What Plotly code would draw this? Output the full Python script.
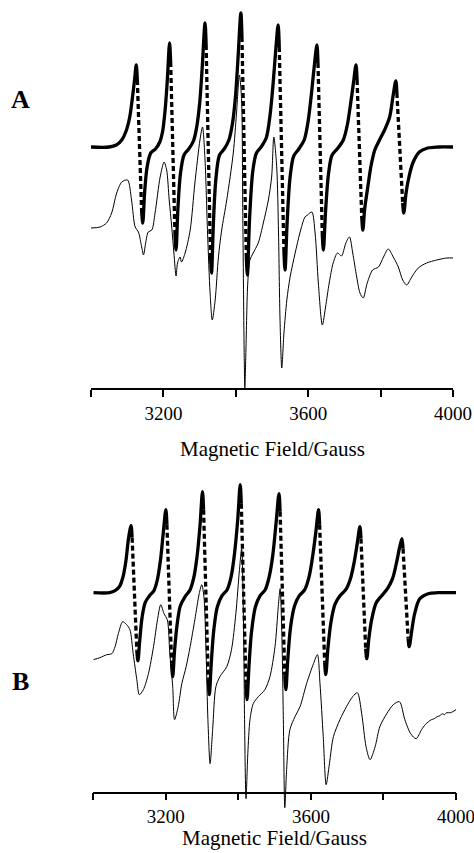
import plotly.graph_objects as go

# ---------------- data (field in Gauss, intensity in arbitrary units) ----------------
simA_field = [3000, 3050, 3070, 3085, 3097, 3107, 3114, 3120, 3125, 3128,
              3134, 3140, 3143,
              3148, 3155, 3165, 3178, 3190, 3198, 3205, 3211, 3217, 3220,
              3226, 3232, 3235,
              3240, 3247, 3257, 3270, 3283, 3292, 3300, 3307, 3315, 3318,
              3324, 3330, 3333,
              3338, 3345, 3355, 3368, 3381, 3391, 3399, 3406, 3414, 3417,
              3423, 3429, 3432,
              3438, 3447, 3457, 3470, 3484, 3494, 3503, 3511, 3517, 3520,
              3527, 3533, 3536,
              3542, 3550, 3560, 3574, 3589, 3599, 3608, 3616, 3624, 3627,
              3633, 3639, 3642,
              3648, 3656, 3666, 3680, 3697, 3708, 3717, 3725, 3732, 3735,
              3741, 3748, 3751,
              3756, 3765, 3774, 3784, 3797, 3811, 3825, 3834, 3842, 3845,
              3853, 3861, 3864,
              3870, 3876, 3889, 3907, 3930, 3960, 4000]
simA_int = [242, 242, 244, 249, 258, 272, 290, 308, 324, 309,
            245, 177, 166,
            196, 222, 236, 240, 247, 258, 280, 310, 346, 327,
            242, 154, 139,
            180, 215, 234, 240, 248, 262, 285, 320, 366, 344,
            241, 135, 116,
            165, 210, 234, 240, 249, 266, 292, 330, 376, 352,
            245, 133, 114,
            170, 218, 236, 242, 251, 272, 305, 342, 364, 342,
            241, 137, 119,
            168, 212, 233, 240, 249, 266, 292, 320, 344, 326,
            241, 154, 139,
            178, 215, 234, 240, 249, 264, 285, 306, 324, 309,
            241, 171, 159,
            180, 203, 224, 239, 249, 259, 272, 292, 308, 296,
            242, 186, 176,
            195, 208, 226, 237, 241, 242, 242]

expA_field = [3000, 3025, 3043, 3057, 3071, 3085, 3101, 3112, 3122, 3131, 3140, 3145,
              3151, 3158, 3168, 3177, 3191, 3202, 3209, 3216, 3223, 3229, 3235, 3239,
              3246, 3250, 3260, 3274, 3287, 3301, 3308, 3315, 3322, 3329, 3335, 3343,
              3352, 3361, 3375, 3393, 3402, 3410, 3416, 3419, 3423, 3425, 3428, 3433,
              3439, 3448, 3462, 3476, 3490, 3499, 3505, 3513, 3518, 3522, 3527, 3533,
              3541, 3550, 3564, 3577, 3591, 3598, 3610, 3619, 3628, 3639, 3648, 3658,
              3669, 3681, 3692, 3704, 3714, 3723, 3734, 3743, 3752, 3763, 3778, 3794,
              3808, 3821, 3835, 3849, 3861, 3872, 3886, 3904, 3927, 3955, 3983, 4000]
expA_int = [161, 162, 166, 176, 196, 207, 209, 189, 162, 157, 142, 134,
            146, 157, 159, 176, 212, 227, 219, 189, 162, 136, 113, 126,
            132, 127, 136, 159, 206, 249, 262, 229, 156, 96, 69, 89,
            132, 159, 189, 236, 276, 314, 289, 189, 39, 1, 39, 106,
            129, 136, 146, 166, 189, 212, 252, 222, 156, 72, 21, 56,
            89, 112, 136, 156, 172, 174, 177, 156, 106, 64, 82, 106,
            126, 136, 133, 146, 152, 136, 112, 96, 91, 106, 119, 122,
            132, 140, 132, 122, 109, 104, 112, 121, 126, 129, 131, 131]

simB_field = [3000, 3045, 3060, 3072, 3082, 3090, 3097, 3104, 3107,
              3113, 3120, 3123,
              3128, 3134, 3143, 3155, 3167, 3176, 3185, 3193, 3200, 3203,
              3209, 3216, 3219,
              3224, 3231, 3240, 3253, 3267, 3277, 3286, 3294, 3301, 3304,
              3310, 3317, 3320,
              3325, 3332, 3342, 3355, 3369, 3380, 3389, 3398, 3405, 3408,
              3414, 3421, 3424,
              3429, 3436, 3447, 3460, 3474, 3485, 3495, 3504, 3512, 3515,
              3521, 3528, 3531,
              3536, 3544, 3555, 3568, 3583, 3595, 3605, 3614, 3621, 3624,
              3631, 3638, 3641,
              3647, 3655, 3666, 3680, 3696, 3709, 3719, 3728, 3735, 3738,
              3745, 3751, 3754,
              3760, 3768, 3780, 3795, 3811, 3825, 3836, 3845, 3851, 3854,
              3861, 3868, 3871,
              3878, 3886, 3900, 3923, 3950, 4000]
simB_int = [200, 200, 202, 206, 216, 232, 254, 267, 255,
            200, 142, 132,
            152, 174, 190, 197, 202, 212, 232, 260, 283, 268,
            200, 129, 116,
            142, 168, 187, 196, 203, 215, 236, 266, 301, 283,
            200, 113, 98,
            128, 162, 186, 197, 203, 216, 238, 272, 308, 289,
            200, 109, 93,
            125, 160, 186, 197, 203, 216, 238, 270, 299, 281,
            200, 117, 103,
            132, 166, 187, 197, 203, 216, 237, 262, 283, 268,
            200, 130, 118,
            145, 170, 188, 197, 203, 214, 230, 250, 266, 254,
            200, 144, 134,
            155, 174, 190, 197, 204, 214, 230, 246, 254, 244,
            200, 154, 146,
            162, 179, 194, 199, 200, 200]

expB_field = [3000, 3018, 3037, 3051, 3060, 3069, 3081, 3092, 3101, 3110, 3120, 3127,
              3138, 3152, 3166, 3177, 3186, 3195, 3204, 3211, 3219, 3224, 3234, 3244,
              3256, 3267, 3280, 3292, 3299, 3305, 3311, 3316, 3322, 3329, 3338, 3349,
              3368, 3381, 3393, 3403, 3409, 3414, 3417, 3421, 3426, 3432, 3441, 3455,
              3473, 3487, 3501, 3510, 3515, 3520, 3524, 3528, 3533, 3542, 3556, 3570,
              3588, 3607, 3618, 3625, 3634, 3642, 3651, 3662, 3680, 3698, 3715, 3728,
              3740, 3752, 3763, 3777, 3790, 3809, 3827, 3844, 3859, 3875, 3890, 3905,
              3915, 3924, 3932, 3940, 3948, 3956, 3962, 3968, 3974, 3985, 4000]
expB_int = [133, 135, 138, 139, 146, 159, 171, 168, 163, 139, 113, 98,
            103, 119, 146, 173, 188, 179, 173, 139, 106, 73, 86, 109,
            126, 146, 173, 199, 208, 196, 139, 73, 29, 63, 106, 116,
            126, 143, 179, 223, 244, 173, 73, -6, 39, 73, 89, 96,
            103, 116, 146, 186, 204, 156, 73, -15, 23, 63, 76, 86,
            109, 129, 138, 109, 56, 8, 29, 56, 73, 86, 96, 100,
            79, 46, 33, 46, 66, 79, 88, 91, 73, 59, 54, 63,
            68, 71, 73, 74, 76, 77, 79, 78, 80, 80, 83]

tick_vals = [3000, 3200, 3400, 3600, 3800, 4000]
tick_text = ["", "3200", "", "3600", "", "4000"]
axis_title = "Magnetic Field/Gauss"
panel_labels = ["A", "B"]

SERIF = "Liberation Serif, Times New Roman, serif"

# ---------------- helpers ----------------
def split_runs(xs, ys):
    """Falling flanks between a peak shoulder and a trough shoulder are drawn dashed."""
    n = len(xs)
    def is_max(i):
        return 0 < i < n - 1 and ys[i] >= ys[i - 1] and ys[i] > ys[i + 1]
    def is_min(i):
        return 0 < i < n - 1 and ys[i] <= ys[i - 1] and ys[i] < ys[i + 1]
    solid_x, solid_y, dash_x, dash_y = [], [], [], []
    prev = None
    for i in range(n - 1):
        dashed = ys[i + 1] < ys[i] and not is_max(i) and not is_min(i + 1)
        kind = "dash" if dashed else "solid"
        tx, ty = (dash_x, dash_y) if dashed else (solid_x, solid_y)
        if kind != prev:
            if tx:
                tx.append(None); ty.append(None)
            tx.append(xs[i]); ty.append(ys[i])
        tx.append(xs[i + 1]); ty.append(ys[i + 1])
        prev = kind
    return solid_x, solid_y, dash_x, dash_y

W, H = 474, 853
ML, MR = 91, 18
fig = go.Figure()

panels = [
    dict(sim=(simA_field, simA_int), exp=(expA_field, expA_int), xa="x", ya="y"),
    dict(sim=(simB_field, simB_int), exp=(expB_field, expB_int), xa="x2", ya="y2"),
]
for p in panels:
    sx, sy, dx, dy = split_runs(*p["sim"])
    fig.add_trace(go.Scatter(x=p["exp"][0], y=p["exp"][1], mode="lines",
                             line=dict(color="black", width=1, shape="spline", smoothing=0.8),
                             xaxis=p["xa"], yaxis=p["ya"], hoverinfo="skip"))
    fig.add_trace(go.Scatter(x=sx, y=sy, mode="lines", connectgaps=False,
                             line=dict(color="black", width=3.3, shape="spline", smoothing=0.9),
                             xaxis=p["xa"], yaxis=p["ya"], hoverinfo="skip"))
    fig.add_trace(go.Scatter(x=dx, y=dy, mode="lines", connectgaps=False,
                             line=dict(color="black", width=3.3, dash="5px,3px"),
                             xaxis=p["xa"], yaxis=p["ya"], hoverinfo="skip"))

def py2paper(py):
    return 1 - py / H

xcommon = dict(range=[3000, 4000], showline=True, linecolor="black", linewidth=1.5,
               ticks="outside", ticklen=7, tickwidth=1.5, tickcolor="black",
               tickvals=tick_vals, ticktext=tick_text, showgrid=False, zeroline=False,
               tickfont=dict(family=SERIF, size=19, color="black"),
               ticklabeloverflow="allow",
               anchor="free", automargin=False)
pw = W - ML - MR
fig.update_layout(
    width=W, height=H, showlegend=False,
    font=dict(family=SERIF, color="black"),
    margin=dict(l=ML, r=MR, t=0, b=0),
    paper_bgcolor="white", plot_bgcolor="white",
    xaxis=dict(**xcommon, domain=[0, 362 / pw], position=py2paper(389)),
    yaxis=dict(visible=False, range=[-10, 380], domain=[py2paper(399), py2paper(9)]),
    xaxis2=dict(**xcommon, domain=[2.3 / pw, 1.0], position=py2paper(792.7)),
    yaxis2=dict(visible=False, range=[-25, 330], domain=[py2paper(817.7), py2paper(462.7)]),
)

tfont = dict(family=SERIF, size=21, color="black")
fig.add_annotation(text=axis_title, x=3500, xref="x", y=py2paper(449), yref="paper",
                   showarrow=False, font=tfont, xanchor="center", yanchor="middle")
fig.add_annotation(text=axis_title, x=3500, xref="x2", y=py2paper(838), yref="paper",
                   showarrow=False, font=tfont, xanchor="center", yanchor="middle")
lfont = dict(family=SERIF, size=26, color="black")
for lab, py in zip(panel_labels, [99, 681]):
    fig.add_annotation(text="<b>%s</b>" % lab, x=(20 - ML) / pw, xref="paper",
                       y=py2paper(py), yref="paper", showarrow=False,
                       font=lfont, xanchor="center", yanchor="middle")

fig.write_html("out.html", config={"displayModeBar": False},
               post_script="document.body.style.margin='0';")
